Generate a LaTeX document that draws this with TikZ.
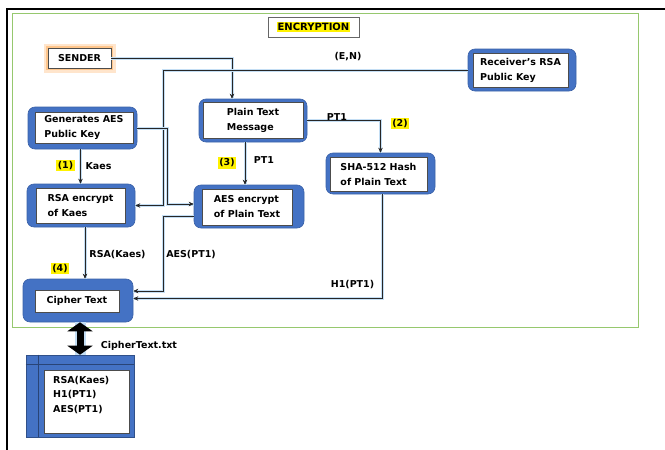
\documentclass[tikz,border=0pt]{standalone}
\usepackage{fontspec}
\setmainfont{DejaVu Sans}
\usetikzlibrary{arrows.meta,calc}
\definecolor{boxblue}{RGB}{68,114,196}
\definecolor{glow}{RGB}{196,222,244}
\definecolor{grn}{RGB}{150,200,110}
\begin{document}
\begin{tikzpicture}[x=1pt,y=-1pt,
  font=\fontsize{9.5}{15}\selectfont\bfseries,
  outer/.style={fill=boxblue, draw=boxblue!85!black, line width=0.6pt, rounded corners=7pt, inner sep=0},
  inner/.style={fill=white, draw=black!70, line width=0.5pt, align=left, inner sep=0},
  conn/.style={draw=black!85, line width=0.7pt, -{Stealth[length=5pt,width=4.5pt]},
    preaction={draw=glow, line width=3pt, -}},
  lbl/.style={inner sep=1pt},
  num/.style={fill=yellow, inner sep=1.5pt}]
\useasboundingbox (0,0) rectangle (665,450);
% frames
\draw[line width=1.5pt] (7,450) -- (7,9) -- (665,9);
\draw[grn, line width=1pt] (12,13) rectangle (638,327);
% title
\node[draw=black!60, fill=white, minimum width=91, minimum height=20, inner sep=0] (enc) at (313.5,27) {};
\node[fill=yellow, inner sep=1pt, font=\fontsize{10}{12}\selectfont\bfseries] (encT) at (enc.center) {ENCRYPTION};
% sender
\node[draw=black!70, fill=white, minimum width=63, minimum height=20, inner sep=0,
  preaction={draw=orange!20, line width=9pt},
  preaction={draw=orange!45, line width=4pt}] (sender) at (79.5,58) {SENDER};
% boxes
\node[outer, minimum width=109, minimum height=42] (gen) at (82.5,128) {};
\node[inner, minimum width=98, minimum height=31] (genT) at (84,127.5) {Generates AES\\Public Key};
\node[outer, minimum width=108, minimum height=43] (rsa) at (81,205.5) {};
\node[inner, minimum width=89, minimum height=35] (rsaT) at (80.5,205.5) {RSA encrypt\\of Kaes};
\node[outer, minimum width=108, minimum height=43] (ptm) at (253,120.5) {};
\node[inner, minimum width=100, minimum height=36] (ptmT) at (253,120) {Plain Text\\Message};
\node[outer, minimum width=110, minimum height=43] (aes) at (249,206.5) {};
\node[inner, minimum width=90, minimum height=36] (aesT) at (247,207) {AES encrypt\\of Plain Text};
\node[outer, minimum width=108, minimum height=42] (rcv) at (522,70) {};
\node[inner, minimum width=95, minimum height=34] (rcvT) at (520.5,70) {Receiver’s RSA\\Public Key};
\node[outer, minimum width=109, minimum height=41] (sha) at (380.5,173.5) {};
\node[inner, minimum width=97, minimum height=34] (shaT) at (378.5,174) {SHA-512 Hash\\of Plain Text};
\node[outer, minimum width=110, minimum height=43] (cip) at (78,300.5) {};
\node[inner, minimum width=84, minimum height=22] (cipT) at (77,301) {Cipher Text};
% storage
\node[fill=boxblue, draw=boxblue!70!black, line width=0.6pt, minimum width=108, minimum height=82, inner sep=0] (store) at (80,396) {};
\draw[boxblue!60!black, line width=0.6pt] ([yshift=-10pt]store.north west) -- ([yshift=-10pt]store.north east);
\draw[boxblue!60!black, line width=0.6pt] ([xshift=13pt]store.north west) -- ([xshift=13pt]store.south west);
\node[inner, minimum width=85, minimum height=63, anchor=north west] (storeT) at (44,370) {};
\node[anchor=north west, align=left, inner sep=0, font=\fontsize{9.5}{14.5}\selectfont\bfseries] (storetxt) at (53,376) {RSA(Kaes)\\H1(PT1)\\AES(PT1)};
% connectors
\coordinate (b1) at (163,70);
\draw[conn] (sender.east) -| ([xshift=-21pt]ptm.north);
\draw[conn] (rcv.west) -- (b1) |- (rsa.east);
\draw[conn] (gen.east) -| (167,204) -- (aes.west |- 167,204);
\draw[conn] ([xshift=-2pt]gen.south) -- ([xshift=-2pt]gen.south |- rsa.north);
\draw[conn] ([xshift=-8pt]ptm.south) -- ([xshift=-8pt]ptm.south |- aes.north);
\draw[conn] (ptm.east) -| (sha.north);
\draw[conn] ([xshift=2pt]sha.south) |- ([yshift=2pt]cip.east);
\draw[conn] ([yshift=-10pt]aes.west) -| (163,291) -- ([yshift=9.5pt]cip.east);
\draw[conn] ([xshift=4pt]rsa.south) -- ([xshift=4pt]rsa.south |- cip.north);
\draw[line width=7pt, {Triangle[width=25pt,length=9pt]}-{Triangle[width=25pt,length=9pt]},
  preaction={draw=glow, line width=11pt, -}] ([xshift=2pt]cip.south) -- ([xshift=2pt]cip.south |- store.north);
% labels
\node[lbl] (lEN) at (348,57) {(E,N)};
\node[lbl] (lKaes) at (98.5,166) {Kaes};
\node[num] (n1) at (65.5,165.5) {(1)};
\node[lbl] (lPT1a) at (264,160) {PT1};
\node[num] (n3) at (227,163) {(3)};
\node[lbl] (lPT1b) at (337,117) {PT1};
\node[num] (n2) at (400,123.5) {(2)};
\node[lbl] (lH1) at (352.5,285) {H1(PT1)};
\node[lbl] (lAES) at (191,255) {AES(PT1)};
\node[lbl] (lRSA) at (117.5,255) {RSA(Kaes)};
\node[num] (n4) at (60,268.5) {(4)};
\node[lbl] (lfile) at (139,346) {CipherText.txt};
\end{tikzpicture}
\end{document}
